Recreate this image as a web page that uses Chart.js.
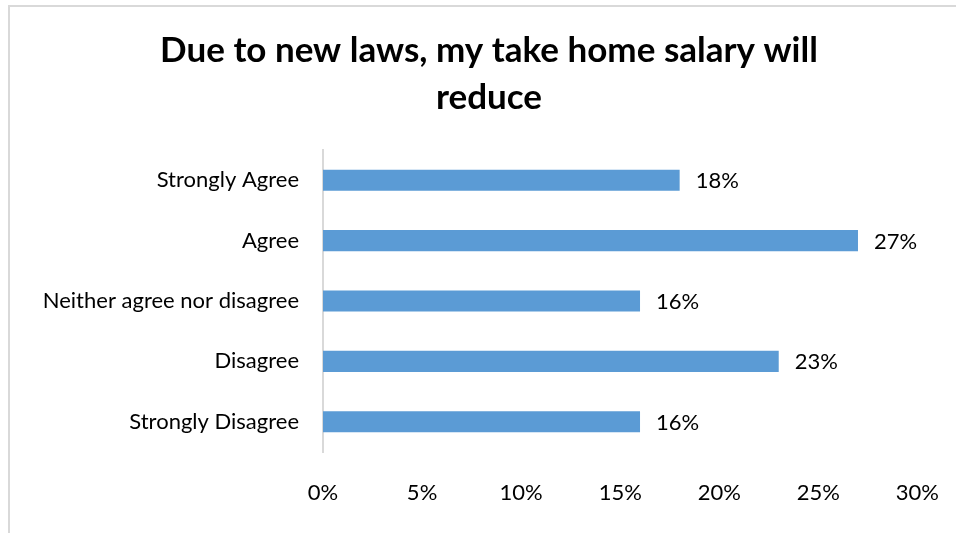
<!DOCTYPE html>
<html>
<head>
<meta charset="utf-8">
<script src="https://cdn.jsdelivr.net/npm/chart.js@4"></script>
<style>
  html, body { margin: 0; padding: 0; background: #fff; }
  #wrap { position: absolute; left: 0; top: 0; width: 956px; height: 533px; overflow: hidden; }
  #frame { position: absolute; left: 8px; top: 5px; width: 1000px; height: 600px; border-left: 2px solid #d9d9d9; border-top: 2px solid #d9d9d9; }
  canvas { position: absolute; left: 0; top: 0; }
</style>
</head>
<body>
<div id="wrap">
  <div id="frame"></div>
  <canvas id="salaryChart" width="956" height="533"></canvas>
</div>
<script>
// Chart values
const categories = ['Strongly Agree', 'Agree', 'Neither agree nor disagree', 'Disagree', 'Strongly Disagree'];
const percents = [18, 27, 16, 23, 16];
const axisMax = 30;
const axisStep = 5;
const titleLines = ['Due to new laws, my take home salary will', 'reduce'];

const FONT = 'Lato, "Open Sans", sans-serif';

// draws the "18%" style labels just right of each bar
const barLabels = {
  id: 'barLabels',
  afterDatasetsDraw(chart) {
    const ctx = chart.ctx;
    const meta = chart.getDatasetMeta(0);
    ctx.save();
    ctx.font = '22px ' + FONT;
    ctx.fillStyle = '#000';
    ctx.textAlign = 'left';
    ctx.textBaseline = 'middle';
    meta.data.forEach((bar, i) => {
      ctx.fillText(percents[i] + '%', bar.x + 16, bar.y + 1);
    });
    ctx.restore();
  }
};

const salaryChart = new Chart(document.getElementById('salaryChart').getContext('2d'), {
  type: 'bar',
  data: {
    labels: categories,
    datasets: [{ data: percents, backgroundColor: '#5b9bd5', barPercentage: 0.7, categoryPercentage: 0.5 }]
  },
  options: {
    indexAxis: 'y',
    responsive: false,
    animation: false,
    // small right padding keeps the title centred like the original;
    // the x axis itself reserves the space for the "30%" label
    layout: { padding: { top: 27, right: 8, left: 30, bottom: 0 } },
    plugins: {
      legend: { display: false },
      tooltip: { enabled: false },
      title: {
        display: true,
        text: titleLines,
        color: '#000',
        font: { family: FONT, size: 35, weight: 'bold', lineHeight: 1.343 },
        padding: { top: 0, bottom: 29 }
      }
    },
    scales: {
      x: {
        min: 0, max: axisMax,
        grid: { display: false, drawTicks: true, tickLength: 11 },
        border: { display: false },
        ticks: {
          stepSize: axisStep,
          color: '#000',
          padding: 17,
          font: { family: FONT, size: 22 },
          callback: v => v + '%'
        },
        afterFit: scale => { scale.height = 81; }
      },
      y: {
        grid: { display: false, drawTicks: false },
        border: { display: true, color: '#d9d9d9', width: 2 },
        ticks: { color: '#000', padding: 24, font: { family: FONT, size: 22 } },
        afterFit: scale => { scale.width = 293; }
      }
    }
  },
  plugins: [barLabels]
});
</script>
</body>
</html>
